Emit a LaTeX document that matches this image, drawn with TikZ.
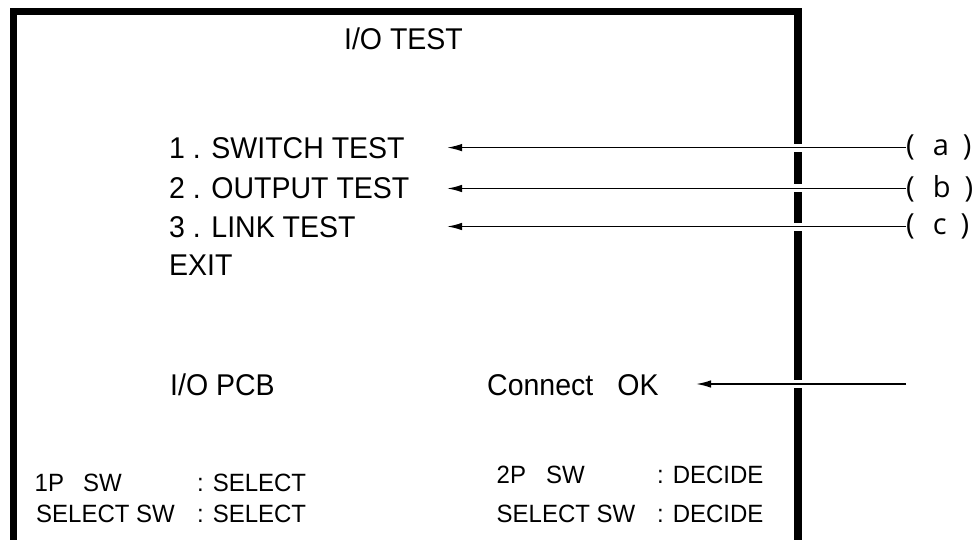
\documentclass[tikz,border=0pt]{standalone}
\usepackage{fontspec}
\setmainfont{Liberation Sans}
\newfontfamily\scrfont[FakeStretch=0.95]{Liberation Sans}
\newfontfamily\helpfont[FakeStretch=0.96]{Liberation Sans}
\newfontfamily\lblfont{Open Sans}
\usetikzlibrary{arrows.meta}
\begin{document}
\begin{tikzpicture}[x=1pt,y=-1pt,
  frame/.style={line width=7.8pt, line join=miter, line cap=butt},
  big/.style={inner sep=0pt, font=\scrfont\fontsize{30}{32}\selectfont},
  small/.style={inner sep=0pt, font=\helpfont\fontsize{25}{27}\selectfont},
  lbl/.style={inner sep=0pt, anchor=west, font=\lblfont\fontsize{29}{31}\selectfont},
  conn/.style={line width=1.6pt, -{Latex[length=15pt,width=7.5pt]},
    preaction={draw=white, line width=8pt, -}}]
\useasboundingbox (0,0) rectangle (979,540);
\fill[white] (0,0) rectangle (979,540);
% screen frame (open at the bottom)
\draw[frame] (13.5,560) -- (13.5,11.5) -- (798,11.5) -- (798,560);
% title
\node[big, anchor=base] (title) at (403.5,50) {I/O TEST};
% menu
\node[big, anchor=base west] (m1) at (169,158.5) {1 . SWITCH TEST};
\node[big, anchor=base west] (m2) at (169,199) {2 . OUTPUT TEST};
\node[big, anchor=base west] (m3) at (169,237) {3 . LINK TEST};
\node[big, anchor=base west] (m4) at (169,275) {EXIT};
% pcb line
\node[big, anchor=base west] (pcb) at (170,395) {I/O PCB};
\node[big, anchor=base west] (con) at (487,395) {Connect\hspace{24pt}OK};
% bottom help
\node[small, anchor=base west] (h1a) at (34.5,491) {1P};
\node[small, anchor=base west] (h1b) at (83,491) {SW};
\node[small, anchor=base west] (h1c) at (197,491) {: SELECT};
\node[small, anchor=base west] (h2a) at (36,522) {SELECT SW};
\node[small, anchor=base west] (h2c) at (197,522) {: SELECT};
\node[small, anchor=base west] (h3a) at (496.5,483) {2P};
\node[small, anchor=base west] (h3b) at (546,483) {SW};
\node[small, anchor=base west] (h3c) at (657,483) {: DECIDE};
\node[small, anchor=base west] (h4a) at (496.5,522) {SELECT SW};
\node[small, anchor=base west] (h4c) at (657,522) {: DECIDE};
% callout labels
\node[lbl] (la) at (906,147.6) {(\hspace{18pt}a\hspace{14pt})};
\node[lbl] (lb) at (906,188.5) {(\hspace{18pt}b\hspace{14pt})};
\node[lbl] (lc) at (906,226.5) {(\hspace{18pt}c\hspace{14pt})};
\coordinate (ta) at (447,147.6);
\coordinate (tb) at (447,188.5);
\coordinate (tc) at (447,226.5);
\coordinate (sk) at (906,384);
\coordinate (tk) at (696,384);
\draw[conn] (la.west) -- (ta);
\draw[conn] (lb.west) -- (tb);
\draw[conn] (lc.west) -- (tc);
\draw[conn] (sk) -- (tk);
\end{tikzpicture}
\end{document}
